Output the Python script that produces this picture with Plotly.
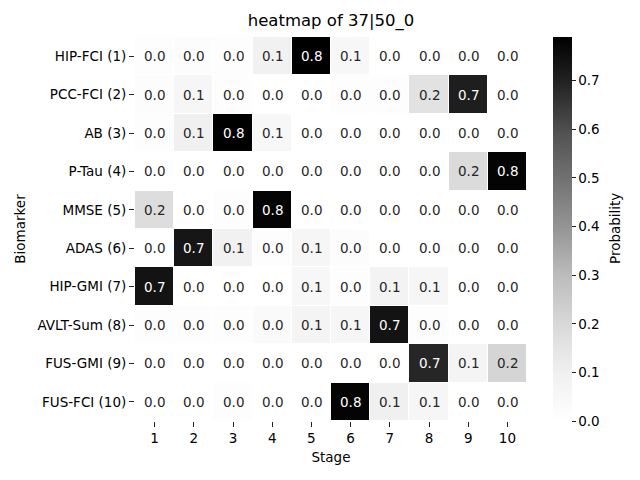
import plotly.graph_objects as go

biomarkers = ["HIP-FCI (1)", "PCC-FCI (2)", "AB (3)", "P-Tau (4)", "MMSE (5)",
              "ADAS (6)", "HIP-GMI (7)", "AVLT-Sum (8)", "FUS-GMI (9)", "FUS-FCI (10)"]
stages = [1, 2, 3, 4, 5, 6, 7, 8, 9, 10]

hip_fci  = [0.01, 0.02, 0.01, 0.09, 0.79, 0.05, 0.00, 0.00, 0.00, 0.00]
pcc_fci  = [0.02, 0.06, 0.01, 0.00, 0.00, 0.01, 0.01, 0.16, 0.71, 0.00]
ab       = [0.01, 0.10, 0.79, 0.05, 0.00, 0.00, 0.00, 0.00, 0.00, 0.00]
p_tau    = [0.00, 0.00, 0.00, 0.00, 0.00, 0.00, 0.00, 0.00, 0.19, 0.78]
mmse     = [0.18, 0.00, 0.01, 0.78, 0.00, 0.00, 0.00, 0.00, 0.00, 0.00]
adas     = [0.00, 0.73, 0.09, 0.01, 0.06, 0.02, 0.00, 0.00, 0.00, 0.00]
hip_gmi  = [0.74, 0.00, 0.00, 0.00, 0.05, 0.01, 0.08, 0.06, 0.00, 0.00]
avlt_sum = [0.01, 0.01, 0.01, 0.03, 0.07, 0.06, 0.74, 0.01, 0.00, 0.00]
fus_gmi  = [0.00, 0.00, 0.00, 0.00, 0.00, 0.00, 0.00, 0.69, 0.07, 0.21]
fus_fci  = [0.00, 0.00, 0.01, 0.00, 0.00, 0.78, 0.10, 0.06, 0.00, 0.00]

z = [hip_fci, pcc_fci, ab, p_tau, mmse, adas, hip_gmi, avlt_sum, fus_gmi, fus_fci]
zmax = max(max(r) for r in z)

greys = [[0.0, "#ffffff"], [0.125, "#f0f0f0"], [0.25, "#d9d9d9"], [0.375, "#bdbdbd"],
         [0.5, "#969696"], [0.625, "#737373"], [0.75, "#525252"], [0.875, "#252525"],
         [1.0, "#000000"]]

font = "DejaVu Sans"
fs = 13.5
fig = go.Figure(go.Heatmap(
    z=z, x=stages, y=biomarkers, zmin=0, zmax=zmax, colorscale=greys,
    xgap=1, ygap=1, hoverinfo="skip",
    colorbar=dict(
        x=1.066, xanchor="left", y=0.5, yanchor="middle", len=1, lenmode="fraction",
        xpad=0, ypad=0,
        thickness=19, outlinewidth=0, ticks="outside", ticklen=4, tickcolor="#222",
        tickvals=[0, 0.1, 0.2, 0.3, 0.4, 0.5, 0.6, 0.7], tickformat=".1f",
        tickfont=dict(family=font, size=fs, color="black"),
    ),
))

annotations = []
for i, row in enumerate(z):
    for j, v in enumerate(row):
        annotations.append(dict(
            x=stages[j], y=biomarkers[i], text=f"{v:.1f}", showarrow=False,
            font=dict(family=font, size=fs, color="white" if v / zmax > 0.5 else "#262626"),
        ))
annotations.append(dict(
    x=(607 - 127) / 392, y=0.5, xref="paper", yref="paper", text="Probability",
    textangle=-90, showarrow=False, xanchor="center", yanchor="middle",
    font=dict(family=font, size=fs, color="black"),
))

fig.update_layout(
    width=640, height=480,
    margin=dict(l=127, r=121, t=29, b=67, autoexpand=False),
    paper_bgcolor="white", plot_bgcolor="white",
    title=dict(text="heatmap of 37|50_0", x=323 / 640, xanchor="center",
               y=1 - 12 / 480, yanchor="middle", font=dict(family=font, size=16.5, color="black")),
    annotations=annotations,
    font=dict(family=font, size=fs, color="black"),
)
fig.update_xaxes(
    title=dict(text="Stage", font=dict(family=font, size=fs), standoff=7),
    tickmode="array", tickvals=stages, ticktext=[str(s) for s in stages],
    ticks="outside", ticklen=5, tickcolor="#222", showgrid=False, zeroline=False,
    showline=False, tickfont=dict(family=font, size=fs), automargin=False,
)
fig.update_yaxes(
    title=dict(text="Biomarker", font=dict(family=font, size=fs), standoff=8),
    autorange="reversed", ticks="outside", ticklen=5, tickcolor="#222",
    showgrid=False, zeroline=False, showline=False, tickfont=dict(family=font, size=fs),
    automargin=False,
)

fig.write_html("out.html")
